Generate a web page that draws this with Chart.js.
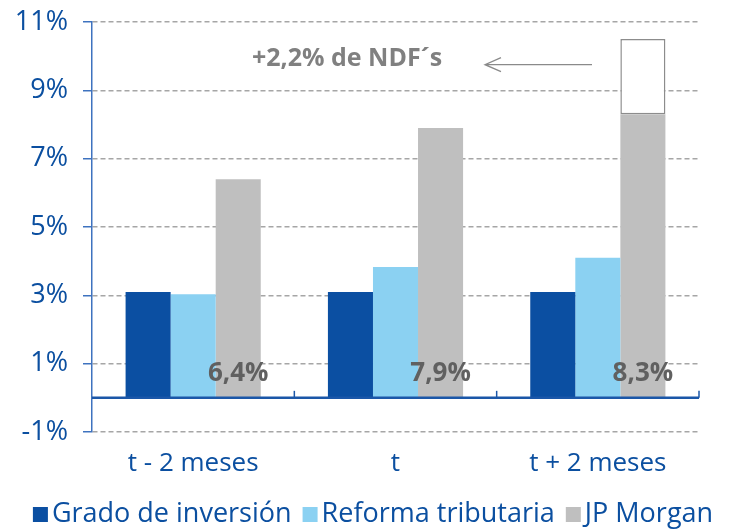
<!DOCTYPE html>
<html>
<head>
<meta charset="utf-8">
<script src="https://cdn.jsdelivr.net/npm/chart.js@4.4.1/dist/chart.umd.min.js"></script>
<style>
  html, body { margin: 0; padding: 0; background: #fff; }
</style>
</head>
<body>
<canvas id="ndfChart" width="746" height="529"></canvas>
<script>
const categories = ['t - 2 meses', 't', 't + 2 meses'];
const gradoInversion = [3.1, 3.1, 3.1];
const reformaTributaria = [3.03, 3.83, 4.1];
const jpMorgan = [6.4, 7.9, 8.3];
const ndfExtra = [null, null, 2.2];
const yTicks = [-1, 1, 3, 5, 7, 9, 11];
const ndfNote = '+2,2% de NDF´s';

const blueText = '#0B4FA0';

// zero line with small upward ticks between the groups
const zeroLine = {
  id: 'zeroLine',
  afterDatasetsDraw(chart) {
    const {ctx, chartArea, scales: {x, y}} = chart;
    const y0 = y.getPixelForValue(0);
    ctx.save();
    ctx.strokeStyle = '#1B57A8';
    ctx.lineWidth = 2.5;
    ctx.beginPath();
    ctx.moveTo(chartArea.left, y0);
    ctx.lineTo(chartArea.right, y0);
    ctx.stroke();
    ctx.lineWidth = 1.5;
    for (let i = 0; i < categories.length; i++) {
      const bx = x.getPixelForValue(i + 0.5);
      ctx.beginPath();
      ctx.moveTo(bx, y0);
      ctx.lineTo(bx, y0 - 7);
      ctx.stroke();
    }
    ctx.restore();
  }
};

// JP Morgan values written near the base of the gray bars
const jpLabels = {
  id: 'jpLabels',
  afterDatasetsDraw(chart) {
    const {ctx, scales: {y}} = chart;
    const meta = chart.getDatasetMeta(2);
    ctx.save();
    ctx.font = 'bold 26px "Open Sans"';
    ctx.fillStyle = '#606060';
    ctx.textAlign = 'center';
    ctx.textBaseline = 'middle';
    meta.data.forEach((bar, i) => {
      const txt = jpMorgan[i].toFixed(1).replace('.', ',') + '%';
      ctx.fillText(txt, bar.x, y.getPixelForValue(0.72));
    });
    ctx.restore();
  }
};

// note + arrow pointing at the NDF box
const ndfNotePlugin = {
  id: 'ndfNote',
  afterDraw(chart) {
    const {ctx, chartArea, scales: {y}} = chart;
    const ty = y.getPixelForValue(9.92);
    const ay = y.getPixelForValue(9.75);
    const x1 = chartArea.left + 393, x2 = chartArea.left + 500;
    ctx.save();
    ctx.font = 'bold 25px "Open Sans"';
    ctx.fillStyle = '#808080';
    ctx.textBaseline = 'middle';
    ctx.fillText(ndfNote, chartArea.left + 160, ty);
    ctx.strokeStyle = '#8A8A8A';
    ctx.lineWidth = 1.3;
    ctx.beginPath();
    ctx.moveTo(x2, ay);
    ctx.lineTo(x1, ay);
    ctx.moveTo(x1 + 16, ay - 7);
    ctx.lineTo(x1, ay);
    ctx.lineTo(x1 + 16, ay + 7);
    ctx.stroke();
    ctx.restore();
  }
};

// legend drawn by hand so the gaps stay tight
const bottomLegend = {
  id: 'bottomLegend',
  afterDraw(chart) {
    const ctx = chart.ctx;
    const items = chart.data.datasets.filter(d => !d.hideInLegend);
    const box = 15, gapText = 4, gapItem = 11;
    ctx.save();
    ctx.font = '27px "Open Sans"';
    let total = 0;
    items.forEach((d, i) => {
      total += box + gapText + ctx.measureText(d.label).width;
      if (i < items.length - 1) total += gapItem;
    });
    let x = (chart.width - total) / 2;
    const cy = 514;
    ctx.textBaseline = 'middle';
    items.forEach(d => {
      ctx.fillStyle = d.backgroundColor;
      ctx.fillRect(x, cy - 7, box, box);
      x += box + gapText;
      ctx.fillStyle = blueText;
      ctx.fillText(d.label, x, cy);
      x += ctx.measureText(d.label).width + gapItem;
    });
    ctx.restore();
  }
};

const ctx = document.getElementById('ndfChart').getContext('2d');
const ndfChart = new Chart(ctx, {
  type: 'bar',
  data: {
    labels: categories,
    datasets: [
      { label: 'Grado de inversión', data: gradoInversion, backgroundColor: '#0B4FA2', stack: 'a' },
      { label: 'Reforma tributaria', data: reformaTributaria, backgroundColor: '#8BD1F2', stack: 'b' },
      { label: 'JP Morgan', data: jpMorgan, backgroundColor: '#BFBFBF', stack: 'c' },
      { label: 'NDF', data: ndfExtra, backgroundColor: '#FFFFFF', borderColor: '#8C8C8C',
        borderWidth: 1.5, borderSkipped: false, stack: 'c', hideInLegend: true }
    ]
  },
  options: {
    responsive: false,
    animation: false,
    devicePixelRatio: 1,
    datasets: {
      bar: { categoryPercentage: 0.668, barPercentage: 1.0 }
    },
    layout: {
      padding: { top: 22, right: 47, bottom: 0, left: 0 }
    },
    scales: {
      x: {
        grid: { display: false, drawTicks: false },
        border: { display: false },
        ticks: { color: blueText, font: { family: 'Open Sans', size: 26 }, padding: 16 },
        afterFit: s => { s.height = 97; }
      },
      y: {
        min: -1,
        max: 11,
        stacked: true,
        afterBuildTicks: s => { s.ticks = yTicks.map(v => ({ value: v })); },
        afterFit: s => { s.width = 92; s.paddingTop = 0; s.paddingBottom = 0; },
        border: { display: true, color: '#3E72BF', width: 1.5, dash: [5, 3] },
        grid: { color: '#A6A6A6', lineWidth: 1.5, tickColor: '#3E72BF', tickLength: 9, tickWidth: 1.5, tickBorderDash: [] },
        ticks: {
          color: blueText,
          font: { family: 'Open Sans', size: 27 },
          padding: 15,
          callback: function(value) {
            return value + '%';
          }
        }
      }
    },
    plugins: {
      legend: { display: false },
      title: { display: false },
      tooltip: { enabled: false }
    }
  },
  plugins: [zeroLine, jpLabels, ndfNotePlugin, bottomLegend]
});
</script>
</body>
</html>
